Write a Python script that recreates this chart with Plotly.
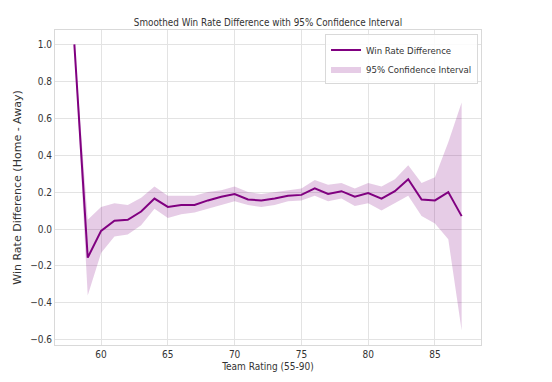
import plotly.graph_objects as go

ratings = list(range(58, 88))
win_diff = [1.0, -0.155, -0.01, 0.045, 0.05, 0.095, 0.165, 0.12, 0.13, 0.13,
            0.155, 0.175, 0.19, 0.16, 0.155, 0.165, 0.18, 0.185, 0.22, 0.19,
            0.205, 0.175, 0.195, 0.165, 0.205, 0.27, 0.16, 0.155, 0.2, 0.07]
ci_lower = [1.0, -0.36, -0.13, -0.04, -0.03, 0.02, 0.11, 0.06, 0.08, 0.09,
            0.11, 0.13, 0.15, 0.13, 0.12, 0.13, 0.15, 0.155, 0.18, 0.15,
            0.165, 0.125, 0.14, 0.10, 0.14, 0.18, 0.07, 0.03, -0.055, -0.55]
ci_upper = [1.0, 0.05, 0.12, 0.14, 0.13, 0.17, 0.23, 0.18, 0.18, 0.18,
            0.20, 0.21, 0.23, 0.20, 0.19, 0.20, 0.21, 0.22, 0.265, 0.24,
            0.25, 0.22, 0.25, 0.23, 0.27, 0.345, 0.25, 0.28, 0.47, 0.685]

purple = "#800080"
fill = "rgba(128,0,128,0.2)"
FONT = "DejaVu Sans Condensed, DejaVu Sans, sans-serif"

fig = go.Figure()
fig.add_trace(go.Scatter(x=ratings, y=ci_lower, mode="lines", line=dict(width=0),
                         showlegend=False, hoverinfo="skip"))
fig.add_trace(go.Scatter(x=ratings, y=ci_upper, mode="lines", line=dict(width=0),
                         fill="tonexty", fillcolor=fill,
                         name="95% Confidence Interval"))
fig.add_trace(go.Scatter(x=ratings, y=win_diff, mode="lines",
                         line=dict(color=purple, width=2),
                         name="Win Rate Difference"))

axis_common = dict(showgrid=True, gridcolor="#e3e3e3", gridwidth=1,
                   showline=True, linecolor="#d9d9d9", linewidth=1, mirror=True,
                   zeroline=False, ticks="", automargin=False,
                   tickfont=dict(size=10, color="#333333"))

fig.update_layout(
    width=552, height=382,
    margin=dict(l=47, r=79, t=22, b=45),
    paper_bgcolor="white", plot_bgcolor="white",
    font=dict(family=FONT, color="#333333"),
    title=dict(text="Smoothed Win Rate Difference with 95% Confidence Interval",
               x=0.5, xref="paper", xanchor="center", y=0.963, yanchor="middle",
               font=dict(size=9.8, color="#333333")),
    xaxis=dict(range=[56.55, 88.45], tickvals=[60, 65, 70, 75, 80, 85],
               title=dict(text="Team Rating (55-90)", font=dict(size=10), standoff=3),
               **axis_common),
    yaxis=dict(range=[-0.628, 1.078], tickvals=[-0.6, -0.4, -0.2, 0.0, 0.2, 0.4, 0.6, 0.8, 1.0],
               tickformat=".1f",
               title=dict(text="Win Rate Difference (Home - Away)",
                          font=dict(size=11, family="DejaVu Sans"), standoff=6),
               **axis_common),
    legend=dict(x=0.993, y=0.986, xanchor="right", yanchor="top",
                bgcolor="rgba(255,255,255,0.85)", bordercolor="#d9d9d9", borderwidth=1,
                font=dict(size=9.5, color="#333333"), traceorder="reversed",
                tracegroupgap=0, itemwidth=30),
    showlegend=True,
)

fig.write_html("out.html")
